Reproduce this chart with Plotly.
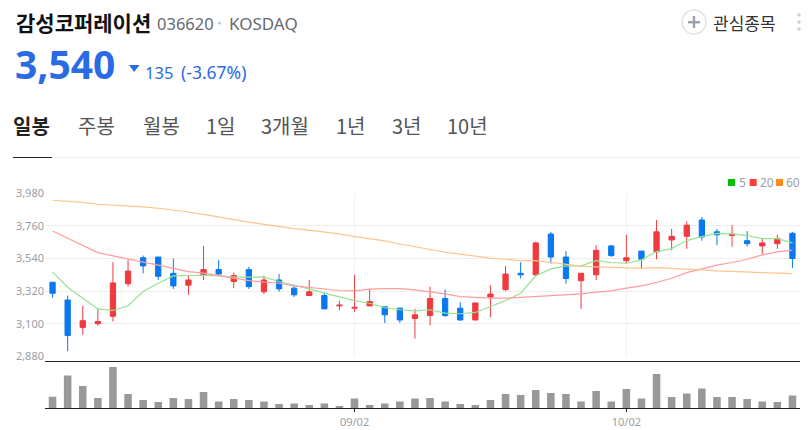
import plotly.graph_objects as go

W, H = 808, 430
MT, MB = 8, 7

sessions = list(range(50))
open_ = [3380,3260,3075,3100,3150,3370,3545,3550,3440,3360,3430,3465,3385,3465,3315,3395,3340,3290,3290,3220,3205,3220,3215,3205,3135,3155,3270,3205,3125,3280,3330,3440,3430,3705,3550,3390,3430,3625,3525,3590,3585,3665,3690,3800,3720,3695,3660,3625,3640,3710]
high = [3380,3290,3220,3205,3515,3530,3560,3550,3540,3430,3625,3530,3445,3485,3425,3435,3360,3395,3310,3255,3430,3335,3215,3205,3200,3350,3330,3245,3240,3360,3490,3515,3655,3720,3590,3440,3630,3630,3700,3590,3800,3740,3790,3820,3740,3765,3725,3675,3700,3720]
low = [3275,2915,3025,3085,3115,3350,3440,3395,3335,3295,3395,3425,3340,3335,3300,3315,3280,3290,3200,3190,3180,3220,3105,3105,3000,3090,3145,3120,3125,3145,3320,3405,3420,3505,3370,3200,3395,3550,3505,3475,3535,3595,3605,3660,3630,3620,3620,3570,3605,3475]
close = [3305,3020,3120,3115,3375,3455,3490,3420,3355,3395,3465,3435,3425,3350,3395,3335,3295,3315,3200,3225,3210,3250,3160,3125,3160,3270,3155,3125,3240,3300,3435,3430,3645,3550,3405,3440,3595,3560,3545,3535,3720,3690,3765,3685,3700,3705,3640,3645,3675,3540]
ma5 = [3450,3346,3272,3200,3189,3221,3317,3373,3423,3425,3427,3423,3414,3414,3414,3385,3362,3335,3306,3279,3256,3238,3209,3194,3187,3194,3171,3167,3176,3216,3256,3306,3423,3470,3490,3490,3526,3513,3508,3531,3587,3607,3661,3688,3710,3706,3695,3674,3674,3645]
ma20 = [3726,3677,3627,3580,3558,3535,3515,3495,3472,3452,3441,3423,3407,3391,3380,3373,3355,3346,3333,3324,3322,3333,3337,3337,3328,3317,3301,3283,3277,3272,3272,3277,3283,3290,3292,3301,3313,3322,3340,3355,3378,3407,3445,3472,3495,3513,3535,3564,3585,3596]
ma60 = [3933,3926,3919,3906,3901,3895,3888,3879,3868,3854,3838,3818,3802,3785,3769,3753,3742,3731,3719,3706,3688,3674,3659,3638,3618,3598,3582,3569,3553,3542,3535,3526,3526,3513,3504,3488,3483,3479,3479,3474,3479,3474,3472,3463,3456,3452,3447,3445,3443,3438]
volume = [35,99,67,31,124,43,25,19,31,28,49,21,28,25,21,13,15,10,15,7,30,10,15,21,30,31,21,13,10,25,43,40,55,46,43,21,52,21,58,30,103,34,45,60,34,34,28,21,19,39]

price_ticks = [2880,3100,3320,3540,3760,3980]
date_ticks = [20,38]
date_labels = ["09/02","10/02"]

KR = "Noto Sans CJK KR"
LAT = "Noto Sans"
BLUE = "#2a6be5"

def px(x): return x / W
def py(y): return 1 - (y - MT) / (H - MT - MB)

fig = go.Figure()
fig.add_trace(go.Candlestick(
    x=sessions, open=open_, high=high, low=low, close=close,
    increasing=dict(line=dict(color="#f03a3e", width=1), fillcolor="#f03a3e"),
    decreasing=dict(line=dict(color="#0a78ee", width=1), fillcolor="#0a78ee"),
    whiskerwidth=0, xaxis="x", yaxis="y", showlegend=False))
for vals, col in [(ma5, "#93e493"), (ma20, "#ff9c9c"), (ma60, "#fdc48c")]:
    fig.add_trace(go.Scatter(x=sessions, y=vals, mode="lines", line=dict(color=col, width=1.2),
                             xaxis="x", yaxis="y", showlegend=False))
fig.add_trace(go.Bar(x=sessions, y=volume, width=0.5, marker=dict(color="#999999", line=dict(width=0)),
                     xaxis="x2", yaxis="y2", showlegend=False))

def label(text, x, y, size, color, family=KR, bold=False, anchor="left"):
    fig.add_annotation(xref="paper", yref="paper", x=px(x), y=py(y), text=f"<b>{text}</b>" if bold else text,
                       showarrow=False, xanchor=anchor, yanchor="middle", borderpad=0,
                       font=dict(size=size, color=color, family=family))

label("감성코퍼레이션", 15, 22, 21, "#111111", bold=True)
label("036620", 156, 23, 16.5, "#666a70", LAT)
label("KOSDAQ", 228, 23, 17, "#666a70", LAT)
label("3,540", 14, 64, 39, BLUE, LAT, bold=True)
label("135", 144, 72, 16.5, BLUE, LAT)
label("(-3.67%)", 180, 72, 17.5, BLUE, LAT)
label("관심종목", 712, 22, 17, "#333333")
label("일봉", 12, 125, 20, "#222222", bold=True)
for text, x in [("주봉",77),("월봉",142),("1일",205),("3개월",260),("1년",335),("3년",391),("10년",446)]:
    label(text, x, 125, 20, "#555555")
for text, x in [("5",737.5),("20",759),("60",785)]:
    label(text, x, 182.5, 12, "#9a9ea4", LAT)

def rect(x0, y0, x1, y1, color):
    fig.add_shape(type="rect", xref="paper", yref="paper", x0=px(x0), x1=px(x1), y0=py(y0), y1=py(y1),
                  fillcolor=color, line=dict(width=0))
def circle(cx, cy, r, fill, stroke=None):
    fig.add_shape(type="circle", xref="paper", yref="paper", x0=px(cx-r), x1=px(cx+r), y0=py(cy-r), y1=py(cy+r),
                  fillcolor=fill, line=dict(width=1.5 if stroke else 0, color=stroke or fill))

rect(728, 179, 735, 186, "#00c000")
rect(749.7, 179, 756.7, 186, "#ff3b3b")
rect(776, 179, 783, 186, "#ff8c1a")
rect(13, 157, 800.5, 158, "#f0f0f0")
rect(13, 157, 52, 158, "#222222")
circle(219.5, 23, 1.6, "#c4c8cc")
circle(694, 22, 12, "#ffffff", "#dfe2e6")
rect(688, 21, 700, 23.4, "#9aa3b0")
rect(692.8, 16, 695.2, 28, "#9aa3b0")
for cy in (15, 22, 29):
    circle(799, cy, 1.8, "#ccd0d6")
fig.add_shape(type="path", xref="paper", yref="paper",
              path=f"M {px(129)} {py(65)} L {px(139.5)} {py(65)} L {px(134.2)} {py(72)} Z",
              fillcolor=BLUE, line=dict(width=0))

fig.update_layout(
    width=W, height=H, margin=dict(l=0, r=0, t=MT, b=MB), autosize=False,
    paper_bgcolor="white", plot_bgcolor="rgba(0,0,0,0)", boxgap=0.5,
    font=dict(family=LAT),
    xaxis=dict(domain=[px(45), px(800)], range=[-0.5, 49.5], rangeslider=dict(visible=False),
               tickvals=date_ticks, showticklabels=False, ticks="", showgrid=True, gridcolor="#f2f2f2",
               gridwidth=1, zeroline=False, showline=False, anchor="y"),
    yaxis=dict(domain=[py(356.3), py(193.3)], range=[2880, 3980], tickvals=price_ticks, tickformat=",d",
               showgrid=True, gridcolor="#eeeeee", gridwidth=1, zeroline=False, showline=False, ticks="",
               tickfont=dict(size=11, color="#9a9ea4", family=LAT), anchor="x"),
    xaxis2=dict(domain=[px(45), px(800)], range=[-0.5, 49.5], tickvals=date_ticks, ticktext=date_labels,
                ticks="outside", ticklen=3, tickcolor="#222222", tickwidth=1,
                tickfont=dict(size=11, color="#9a9ea4", family=LAT), showgrid=False, zeroline=False,
                showline=True, mirror=True, linecolor="#222222", linewidth=1, anchor="y2"),
    yaxis2=dict(domain=[py(408.4), py(361.7)], range=[0, 140], showticklabels=False, showgrid=False,
                zeroline=False, showline=False, ticks="", anchor="x2"),
)
fig.write_html("out.html", post_script="document.body.style.margin='0';", config=dict(displayModeBar=False))
